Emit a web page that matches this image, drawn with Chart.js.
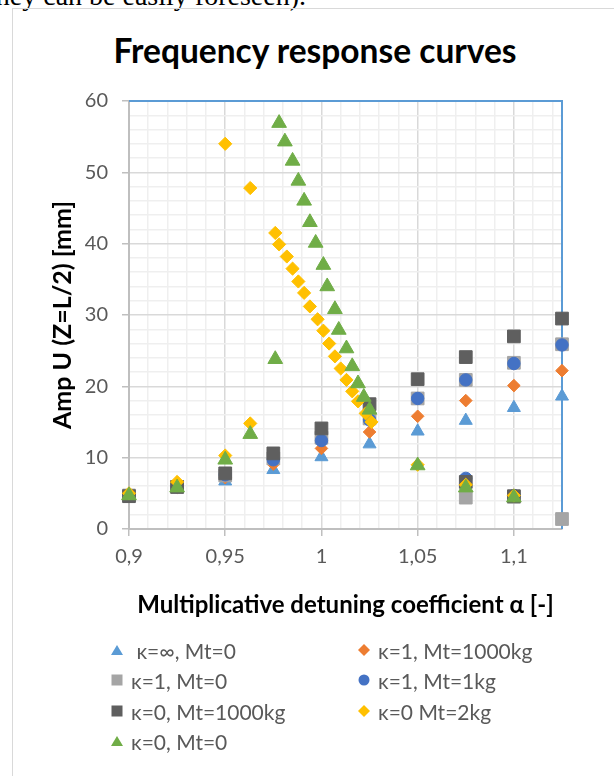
<!DOCTYPE html>
<html>
<head>
<meta charset="utf-8">
<script src="https://cdn.jsdelivr.net/npm/chart.js@4.4.1/dist/chart.umd.min.js"></script>
<style>
  html, body { margin: 0; padding: 0; background: #fff; overflow: hidden; }
  body { width: 614px; height: 776px; position: relative; font-family: Lato, sans-serif; }
  #above { position: absolute; left: -12px; top: -18px; font: 28px/28px "Liberation Serif", serif; color: #000; white-space: nowrap; }
  #frame { position: absolute; left: 12px; top: 8px; width: 700px; height: 900px; border: 1.5px solid #d9d9d9; }
  #title { position: absolute; left: 0; width: 630px; top: 34px; text-align: center; font: bold 33.5px/33px Lato, sans-serif; color: #000; }
  #chart { position: absolute; left: 0; top: 0; }
  .lg { position: absolute; display: flex; align-items: center; height: 24px; font-size: 21px; color: #595959; white-space: pre; }
  .lg svg { margin-right: 8px; }
</style>
</head>
<body>
<div id="above">they can be easily foreseen).</div>
<div id="frame"></div>
<div id="title">Frequency response curves</div>
<canvas id="chart" width="614" height="776"></canvas>
<div id="legend"></div>

<script>
// detuning coefficient values (x) and amplitudes (y) per series
const alphaStd = [0.9, 0.925, 0.95, 0.975, 1.0, 1.025, 1.05, 1.075, 1.1, 1.125];

const ampKinfM0 = [4.5, 5.7, 6.7, 8.3, 10.1, 11.9, 13.7, 15.2, 17.0, 18.6];
const ampK1M1000 = [4.6, 5.8, 7.2, 9.1, 11.3, 13.6, 15.8, 18.0, 20.1, 22.2];

const alphaK1M0 = [0.9, 0.925, 0.95, 0.975, 1.0, 1.025, 1.05, 1.075, 1.1, 1.125, 1.075, 1.1, 1.125];
const ampK1M0 = [4.7, 5.9, 7.5, 9.9, 12.8, 15.5, 18.3, 20.9, 23.3, 25.9, 4.4, 4.5, 1.4];

const alphaK1M1 = [0.9, 0.925, 0.95, 0.975, 1.0, 1.025, 1.05, 1.075, 1.1, 1.125, 1.075, 1.1];
const ampK1M1 = [4.7, 6.0, 7.6, 9.7, 12.4, 15.3, 18.3, 20.9, 23.2, 25.8, 7.1, 4.7];

const alphaK0M1000 = [0.9, 0.925, 0.95, 0.975, 1.0, 1.025, 1.05, 1.075, 1.1, 1.125, 1.075, 1.1];
const ampK0M1000 = [4.6, 5.9, 7.8, 10.6, 14.1, 17.5, 21.0, 24.1, 27.0, 29.5, 6.6, 4.6];

const alphaK0M2 = [0.9, 0.925, 0.95, 0.95, 0.963, 0.963, 0.976, 0.978, 0.982, 0.985, 0.988, 0.991, 0.994,
  0.998, 1.001, 1.004, 1.007, 1.010, 1.013, 1.016, 1.019, 1.023, 1.026, 1.05, 1.075, 1.1];
const ampK0M2 = [5.0, 6.6, 10.3, 54.0, 14.8, 47.8, 41.5, 39.9, 38.2, 36.5, 34.7, 33.1, 31.2,
  29.4, 27.8, 26.0, 24.2, 22.5, 20.9, 19.3, 17.9, 16.2, 15.0, 9.0, 6.2, 4.7];

const alphaK0M0 = [0.9, 0.925, 0.95, 0.963, 0.976, 0.978, 0.981, 0.985, 0.988, 0.991, 0.994, 0.997,
  1.001, 1.003, 1.007, 1.009, 1.013, 1.016, 1.019, 1.022, 1.025, 1.05, 1.075, 1.1];
const ampK0M0 = [4.7, 5.8, 9.7, 13.3, 23.8, 56.9, 54.3, 51.6, 48.8, 46.0, 43.0, 40.1,
  37.0, 34.0, 30.8, 27.9, 25.3, 22.8, 20.4, 18.5, 16.7, 8.9, 5.8, 4.4];

const seriesLabels = [" κ=∞, Mt=0", "κ=1, Mt=1000kg", "κ=1, Mt=0", "κ=1, Mt=1kg",
  "κ=0, Mt=1000kg", "κ=0 Mt=2kg", "κ=0, Mt=0"];

// axis ticks
const xMajor = [0.9, 0.95, 1.0, 1.05, 1.1];
const xTickLabels = ["0,9", "0,95", "1", "1,05", "1,1"];
const yMajor = [0, 10, 20, 30, 40, 50, 60];

// minor grid every 0.01 on x, plus the axis end
const xGrid = [];
for (let i = 90; i <= 112; i++) xGrid.push(i / 100);
xGrid.push(1.125);

function pts(xs, ys) {
  return xs.map((x, i) => ({ x: x, y: ys[i] }));
}

function isXMajor(v) {
  return xMajor.some(m => Math.abs(m - v) < 1e-6);
}

const styles = [
  { color: "#5b9bd5", shape: "triangle", r: 7.5 },
  { color: "#ed7d31", shape: "rectRot", r: 6.3 },
  { color: "#a5a5a5", shape: "rect", r: 9 },
  { color: "#4472c4", shape: "circle", r: 6.2 },
  { color: "#5f5f5f", shape: "rect", r: 9 },
  { color: "#ffc000", shape: "rectRot", r: 6.6 },
  { color: "#70ad47", shape: "triangle", r: 8.5 }
];

const allData = [
  pts(alphaStd, ampKinfM0),
  pts(alphaStd, ampK1M1000),
  pts(alphaK1M0, ampK1M0),
  pts(alphaK1M1, ampK1M1),
  pts(alphaK0M1000, ampK0M1000),
  pts(alphaK0M2, ampK0M2),
  pts(alphaK0M0, ampK0M0)
];

const datasets = allData.map((d, i) => ({
  label: seriesLabels[i],
  data: d,
  order: 6 - i, // later series on top, like Excel
  clip: false,
  pointStyle: styles[i].shape,
  pointRadius: styles[i].r,
  pointHoverRadius: styles[i].r,
  pointBackgroundColor: styles[i].color,
  pointBorderColor: styles[i].color,
  pointBorderWidth: 1
}));

// blue top / right edges of the plot area
const frameLines = {
  id: "frameLines",
  beforeDatasetsDraw(chart) {
    const { ctx, chartArea: a } = chart;
    ctx.save();
    ctx.strokeStyle = "#5b9bd5";
    ctx.lineWidth = 2;
    ctx.beginPath();
    ctx.moveTo(a.left, a.top);
    ctx.lineTo(a.right, a.top);
    ctx.lineTo(a.right, a.bottom);
    ctx.stroke();
    ctx.restore();
  }
};

const tickFont = { family: "Lato", size: 20 };

new Chart(document.getElementById("chart"), {
  type: "scatter",
  data: { datasets },
  plugins: [frameLines],
  options: {
    responsive: false,
    animation: false,
    layout: { padding: { left: 13, right: 52, top: 101, bottom: 137 } },
    plugins: { legend: { display: false }, tooltip: { enabled: false } },
    scales: {
      x: {
        type: "linear",
        min: 0.9,
        max: 1.125,
        afterBuildTicks: s => { s.ticks = xGrid.map(v => ({ value: v })); },
        afterFit: s => { s.height = 110; },
        ticks: {
          autoSkip: false,
          maxRotation: 0,
          color: "#595959",
          font: tickFont,
          padding: 9,
          callback: v => {
            const k = xMajor.findIndex(m => Math.abs(m - v) < 1e-6);
            return k >= 0 ? xTickLabels[k] : "";
          }
        },
        grid: {
          color: c => isXMajor(c.tick.value) ? "#d9d9d9" : "#efefef",
          lineWidth: 1.5,
          tickLength: 7,
          tickColor: c => isXMajor(c.tick.value) ? "#bfbfbf" : "rgba(0,0,0,0)"
        },
        border: { color: "#bfbfbf", width: 2 },
        title: {
          display: true,
          text: "Multiplicative detuning coefficient α [-]",
          color: "#000",
          font: { family: "Lato", size: 24, weight: "bold" },
          padding: { top: 0, bottom: 19 }
        }
      },
      y: {
        min: 0,
        max: 60,
        afterFit: s => { s.width = 116; },
        ticks: {
          stepSize: 2,
          autoSkip: false,
          color: "#595959",
          font: tickFont,
          padding: 14,
          callback: v => yMajor.includes(v) ? String(v) : ""
        },
        grid: {
          color: c => c.tick.value % 10 === 0 ? "#d9d9d9" : "#efefef",
          lineWidth: 1.5,
          tickLength: 7,
          tickColor: c => c.tick.value % 10 === 0 ? "#bfbfbf" : "rgba(0,0,0,0)"
        },
        border: { color: "#bfbfbf", width: 2 },
        title: {
          display: true,
          text: "Amp U (Z=L/2) [mm]",
          color: "#000",
          font: { family: "Lato", size: 25, weight: "bold" },
          padding: { top: 35, bottom: 0 }
        }
      }
    }
  }
});

// legend in two columns, like the Excel one
const legendCols = [111, 358];
const legendRows = [650, 680, 711, 741];

function markerSvg(shape, color) {
  let body;
  if (shape === "triangle") body = `<polygon points="6,1 12,11 0,11" fill="${color}"/>`;
  else if (shape === "rect") body = `<rect x="0.5" y="0.5" width="11" height="11" fill="${color}"/>`;
  else if (shape === "rectRot") body = `<polygon points="6,0 12,6 6,12 0,6" fill="${color}"/>`;
  else body = `<circle cx="6" cy="6" r="5.5" fill="${color}"/>`;
  return `<svg width="12" height="12" viewBox="0 0 12 12">${body}</svg>`;
}

const legendEl = document.getElementById("legend");
seriesLabels.forEach((lab, i) => {
  const div = document.createElement("div");
  div.className = "lg";
  div.style.left = legendCols[i % 2] + "px";
  div.style.top = (legendRows[Math.floor(i / 2)] - 12) + "px";
  div.innerHTML = markerSvg(styles[i].shape, styles[i].color) + "<span></span>";
  div.querySelector("span").textContent = lab;
  legendEl.appendChild(div);
});
</script>
</body>
</html>
